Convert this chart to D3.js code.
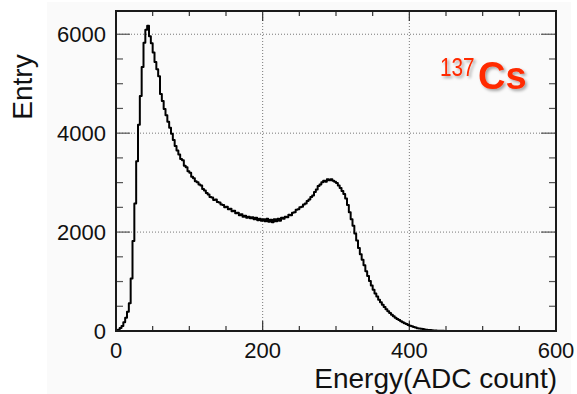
<!DOCTYPE html>
<html>
<head>
<meta charset="utf-8">
<script src="https://cdn.jsdelivr.net/npm/d3@7"></script>
<style>
  body { margin: 0; background: #fff; }
  text { font-family: "Liberation Sans", Arial, Helvetica, sans-serif; fill: #111; }
</style>
</head>
<body>
<script>
// histogram of 137Cs energy, 2.5 ADC wide bins from 0 to 600
var binWidth = 2.5;
var counts = [
  3, 25, 60, 100, 175, 270, 390, 560, 1060, 1820,
  2580, 3430, 4170, 4750, 5340, 5830, 6090, 6170, 5960, 5820,
  5630, 5440, 5290, 5150, 4790, 4650, 4490, 4360, 4230, 4110,
  3990, 3860, 3740, 3650, 3570, 3480, 3450, 3340, 3310, 3230,
  3200, 3120, 3090, 3030, 3010, 2960, 2940, 2870, 2840, 2790,
  2760, 2710, 2700, 2650, 2660, 2610, 2600, 2560, 2550, 2500,
  2510, 2460, 2470, 2420, 2430, 2380, 2390, 2340, 2360, 2310,
  2330, 2290, 2310, 2280, 2300, 2260, 2290, 2240, 2270, 2230,
  2260, 2220, 2270, 2210, 2250, 2200, 2260, 2220, 2270, 2230,
  2290, 2270, 2310, 2300, 2350, 2340, 2390, 2400, 2450, 2460,
  2500, 2510, 2560, 2580, 2630, 2660, 2710, 2740, 2810, 2860,
  2930, 2960, 3010, 3040, 3020, 3070, 3050, 3070, 3040, 3020,
  2990, 2940, 2890, 2830, 2770, 2680, 2550, 2400, 2260, 2130,
  1970, 1830, 1680, 1550, 1440, 1330, 1210, 1110, 1010, 920,
  835, 760, 700, 630, 580, 530, 485, 440, 400, 365,
  330, 300, 270, 245, 220, 195, 175, 155, 140, 120,
  105, 95, 80, 70, 58, 50, 44, 38, 32, 27,
  22, 18, 14, 11, 9, 7, 5, 4, 3, 2,
  2, 1, 1, 1, 0, 0, 0, 0, 0, 0,
  0, 0, 0, 0, 0, 0, 0, 0, 0, 0,
  0, 0, 0, 0, 0, 0, 0, 0, 0, 0,
  0, 0, 0, 0, 0, 0, 0, 0, 0, 0,
  0, 0, 0, 0, 0, 0, 0, 0, 0, 0,
  0, 0, 0, 0, 0, 0, 0, 0, 0, 0
];
var xTicks = [0, 200, 400, 600];
var yTicks = [0, 2000, 4000, 6000];
var xTitle = "Energy(ADC count)";
var yTitle = "Entry";

var W = 577, H = 394;
var margin = { top: 11, right: 21, bottom: 63, left: 116 };
var width = W - margin.left - margin.right,
    height = H - margin.top - margin.bottom;

var svg = d3.select("body").append("svg")
    .attr("width", W)
    .attr("height", H);

var defs = svg.append("defs");
var f = defs.append("filter").attr("id", "shadow")
    .attr("x", "-20%").attr("y", "-20%").attr("width", "150%").attr("height", "150%");
f.append("feDropShadow").attr("dx", 2).attr("dy", 2).attr("stdDeviation", 1.6)
    .attr("flood-color", "#000").attr("flood-opacity", 0.35);

// pad background
svg.append("rect")
    .attr("x", 47).attr("y", 2)
    .attr("width", 524).attr("height", H - 2)
    .attr("fill", "#fafafa");

var g = svg.append("g")
    .attr("transform", "translate(" + margin.left + "," + margin.top + ")");

var x = d3.scaleLinear().domain([0, 600]).range([0, width]);
var y = d3.scaleLinear().domain([0, 6470]).range([height, 0]);

// grid
g.selectAll(".gx").data(xTicks.slice(1, -1)).enter().append("line")
    .attr("x1", function (d) { return x(d); }).attr("x2", function (d) { return x(d); })
    .attr("y1", 0).attr("y2", height)
    .attr("stroke", "#777").attr("stroke-width", 1).attr("stroke-dasharray", "1,2");
g.selectAll(".gy").data(yTicks.slice(1)).enter().append("line")
    .attr("x1", 0).attr("x2", width)
    .attr("y1", function (d) { return y(d); }).attr("y2", function (d) { return y(d); })
    .attr("stroke", "#777").attr("stroke-width", 1).attr("stroke-dasharray", "1,2");

// ticks inside the frame, on all four sides
var xMinor = d3.range(0, 601, 50);
var yMinor = d3.range(0, 6470, 500);
function tickLen(v, major, big, small) { return v % major === 0 ? big : small; }

g.selectAll(".tb").data(xMinor).enter().append("line")
    .attr("x1", function (d) { return x(d); }).attr("x2", function (d) { return x(d); })
    .attr("y1", height).attr("y2", function (d) { return height - tickLen(d, 200, 10, 5); })
    .attr("stroke", "#333").attr("stroke-width", 1.2);
g.selectAll(".tt").data(xMinor).enter().append("line")
    .attr("x1", function (d) { return x(d); }).attr("x2", function (d) { return x(d); })
    .attr("y1", 0).attr("y2", function (d) { return tickLen(d, 200, 10, 5); })
    .attr("stroke", "#333").attr("stroke-width", 1.2);
g.selectAll(".tl").data(yMinor).enter().append("line")
    .attr("x1", 0).attr("x2", function (d) { return tickLen(d, 2000, 14, 7); })
    .attr("y1", function (d) { return y(d); }).attr("y2", function (d) { return y(d); })
    .attr("stroke", "#555").attr("stroke-width", 1.2);
g.selectAll(".tr").data(yMinor).enter().append("line")
    .attr("x1", width).attr("x2", function (d) { return width - tickLen(d, 2000, 15, 7); })
    .attr("y1", function (d) { return y(d); }).attr("y2", function (d) { return y(d); })
    .attr("stroke", "#555").attr("stroke-width", 1.2);

// histogram as a step line
var pts = counts.map(function (c, i) { return [i * binWidth, c]; });
pts.push([counts.length * binWidth, counts[counts.length - 1]]);
var line = d3.line()
    .x(function (d) { return x(d[0]); })
    .y(function (d) { return y(d[1]); })
    .curve(d3.curveStepAfter);
g.append("path")
    .datum(pts)
    .attr("d", line)
    .attr("fill", "none")
    .attr("stroke", "#000")
    .attr("stroke-width", 2)
    .attr("stroke-linejoin", "round");

// frame
g.append("rect")
    .attr("width", width).attr("height", height)
    .attr("fill", "none").attr("stroke", "#1a1a1a").attr("stroke-width", 2);

// tick labels
g.selectAll(".xl").data(xTicks).enter().append("text")
    .attr("x", function (d) { return x(d); })
    .attr("y", height + 27)
    .attr("text-anchor", "middle")
    .style("font-size", "22px")
    .text(function (d) { return d; });
g.selectAll(".yl").data(yTicks).enter().append("text")
    .attr("x", -10)
    .attr("y", function (d) { return y(d) + 8; })
    .attr("text-anchor", "end")
    .style("font-size", "22px")
    .text(function (d) { return d; });

// axis titles
svg.append("text")
    .attr("x", 557).attr("y", 388)
    .attr("text-anchor", "end")
    .style("font-size", "28px")
    .text(xTitle);
svg.append("text")
    .attr("transform", "translate(32,87) rotate(-90)")
    .attr("text-anchor", "middle")
    .style("font-size", "28px")
    .text(yTitle);

// isotope label: narrow superscript mass number, then the element
var lab = svg.append("g").attr("filter", "url(#shadow)");
lab.append("text")
    .attr("transform", "translate(440,76) scale(0.8,1)")
    .style("font-size", "26px")
    .style("fill", "#ff2a00")
    .text("137");
lab.append("text")
    .attr("x", 478).attr("y", 89)
    .style("font-size", "38px")
    .style("font-weight", "bold")
    .style("fill", "#ff2a00")
    .text("Cs");
</script>
</body>
</html>
